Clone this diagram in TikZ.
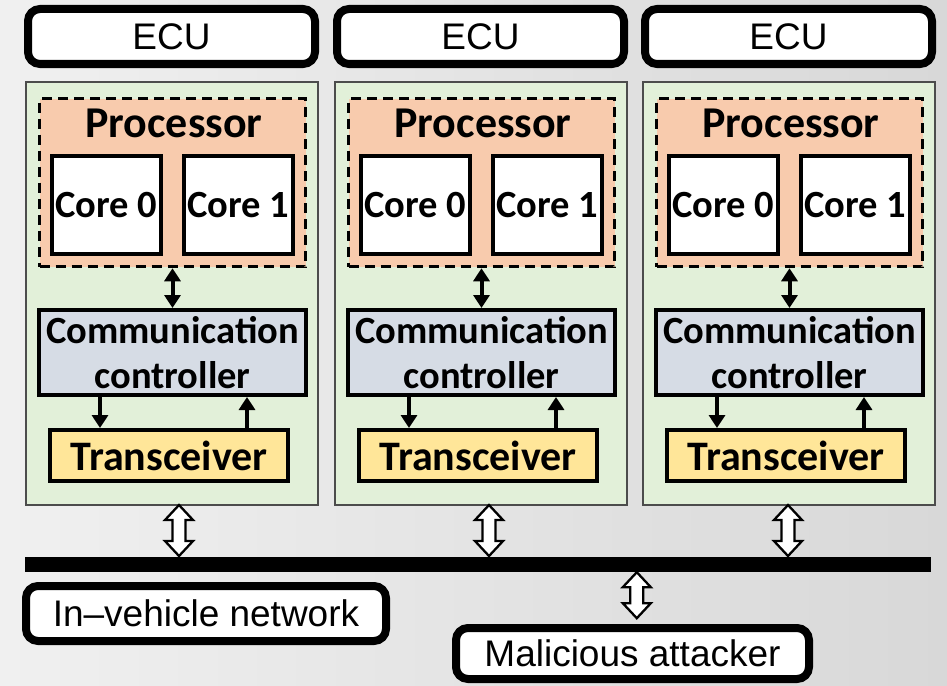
\documentclass[tikz,border=0pt]{standalone}
\usepackage{fontspec}
\setmainfont{Liberation Sans}
\newfontfamily\calfont{Carlito}
\usetikzlibrary{arrows.meta,calc}
\definecolor{ecugreen}{HTML}{E2F0D9}
\definecolor{procorange}{HTML}{F8CBAD}
\definecolor{ctrlblue}{HTML}{D6DCE5}
\definecolor{trxyellow}{HTML}{FFE699}
\definecolor{bgleft}{HTML}{F0F0F0}
\definecolor{bgright}{HTML}{D8D8D8}
\tikzset{
  labelbox/.style={draw=black, line width=8pt, rounded corners=12pt, fill=white,
    inner sep=0pt, font=\fontsize{37}{40}\selectfont},
  ecubox/.style={draw=black!70, line width=1.3pt, fill=ecugreen, inner sep=0pt},
  procbox/.style={draw=black, line width=3.5pt, dash pattern=on 10pt off 6pt,
    fill=procorange, inner sep=0pt},
  corebox/.style={draw=black, line width=4pt, fill=white, inner sep=0pt,
    font=\calfont\bfseries\fontsize{38.5}{40}\selectfont},
  ctrlbox/.style={draw=black, line width=4pt, fill=ctrlblue, inner sep=0pt,
    align=center, font=\calfont\bfseries\fontsize{38.5}{45}\selectfont},
  trxbox/.style={draw=black, line width=4pt, fill=trxyellow, inner sep=0pt,
    font=\calfont\bfseries\fontsize{42}{44}\selectfont},
  boldlabel/.style={inner sep=0pt, font=\calfont\bfseries\fontsize{44}{46}\selectfont},
  solidarr/.style={line width=4pt, -{Triangle[length=13pt,width=16pt]}},
  dblarr/.style={line width=4pt, {Triangle[length=13pt,width=16pt]}-{Triangle[length=13pt,width=16pt]}},
  openarr/.style={draw=black, line width=2.3pt, fill=white, line join=miter},
}
\begin{document}
\begin{tikzpicture}[x=1pt, y=-1pt]
  \useasboundingbox (0,0) rectangle (947,685);
  % background
  \fill[left color=bgleft, right color=bgright] (0,0) rectangle (947,685);

  % three ECUs: left edge of the green body / x offset of the bus link
  \foreach \L/\A/\i in {26/153/1, 335/154/2, 643/145/3} {
    \node[labelbox, minimum width=287pt, minimum height=55pt]
      (ecu\i) at (\L+145.5, 36.5) {ECU};
    \node[ecubox, minimum width=292pt, minimum height=423pt]
      (body\i) at (\L+146, 293.5) {};
    \node[procbox, minimum width=266pt, minimum height=168pt]
      (proc\i) at (\L+146.5, 182.5) {};
    \node[boldlabel, anchor=base] (plabel\i) at (\L+148, 137) {Processor};
    \node[corebox, minimum width=109pt, minimum height=98pt]
      (coreA\i) at (\L+80.5, 205) {Core 0};
    \node[corebox, minimum width=109pt, minimum height=98pt]
      (coreB\i) at (\L+212.5, 205) {Core 1};
    \node[ctrlbox, minimum width=267pt, minimum height=85pt]
      (ctrl\i) at (\L+146.5, 352.5) {Communication\\controller};
    \node[trxbox, minimum width=238pt, minimum height=51pt]
      (trx\i) at (\L+143, 455.5) {Transceiver};

    \draw[dblarr] (proc\i.south) -- (ctrl\i.north);
    \draw[solidarr] ([xshift=-72.5pt]ctrl\i.south) -- ([xshift=-72.5pt]ctrl\i.south |- trx\i.north);
    \draw[solidarr] ([xshift=74.5pt]ctrl\i.south |- trx\i.north) -- ([xshift=74.5pt]ctrl\i.south);

    % hollow double arrow down to the bus
    \coordinate (link\i) at (\L+\A, 505);
    \draw[openarr] (link\i) -- ++(14,15) -- ++(-7.5,0) -- ++(0,21) -- ++(7.5,0)
      -- ++(-14,15) -- ++(-14,-15) -- ++(7.5,0) -- ++(0,-21) -- ++(-7.5,0) -- cycle;
  }

  % bus
  \node[fill=black, inner sep=0pt, minimum width=906pt, minimum height=15pt]
    (bus) at (478, 564.5) {};

  % bottom labels
  \node[labelbox, minimum width=360pt, minimum height=55pt]
    (net) at (206, 613.5) {In–vehicle network};
  \node[labelbox, minimum width=353pt, minimum height=51pt]
    (att) at (632.5, 653.5) {Malicious attacker};

  % attacker link
  \coordinate (alink) at ($(bus.south west)+(612,0)$);
  \draw[openarr] (alink) -- ++(14,15) -- ++(-7.5,0) -- ++(0,16) -- ++(7.5,0)
    -- ++(-14,15) -- ++(-14,-15) -- ++(7.5,0) -- ++(0,-16) -- ++(-7.5,0) -- cycle;
\end{tikzpicture}
\end{document}
